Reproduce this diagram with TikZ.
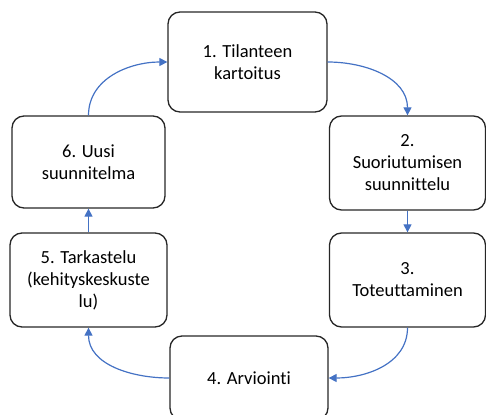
\documentclass[tikz,border=0pt]{standalone}
\usepackage{fontspec}
\setmainfont{Carlito}[Ligatures=NoCommon]
\usetikzlibrary{arrows.meta}
\definecolor{arrowblue}{HTML}{4472C4}
\definecolor{boxline}{HTML}{262626}
\begin{document}
\begin{tikzpicture}[x=1pt,y=-1pt,
  stepbox/.style={draw=boxline,line width=1.3pt,rounded corners=12pt,align=center,
    font=\fontsize{18.5}{22}\selectfont,inner sep=0pt},
  flow/.style={draw=arrowblue,line width=1.2pt,-{Triangle[length=8pt,width=8pt]}}]
\useasboundingbox (0,0) rectangle (486,414);
\node[stepbox,minimum width=159pt,minimum height=100pt] (b1) at (247.5,62) {1. Tilanteen\\kartoitus};
\node[stepbox,minimum width=156pt,minimum height=94pt] (b2) at (407.5,163) {2.\\Suoriutumisen\\suunnittelu};
\node[stepbox,minimum width=156pt,minimum height=94pt] (b3) at (407.5,280) {3.\\Toteuttaminen};
\node[stepbox,minimum width=158pt,minimum height=84pt] (b4) at (249,378) {4. Arviointi};
\node[stepbox,minimum width=157pt,minimum height=94pt] (b5) at (88.5,280) {5. Tarkastelu\\(kehityskeskuste\\lu)};
\node[stepbox,minimum width=153pt,minimum height=92pt] (b6) at (88.5,162) {6. Uusi\\suunnitelma};
\draw[flow] (b6.north) to[out=90,in=180] (b1.west);
\draw[flow] (b1.east) to[out=0,in=90] (b2.north);
\draw[flow] (b2.south) -- (b3.north);
\draw[flow] (b3.south) to[out=-90,in=0] (b4.east);
\draw[flow] (b4.west) to[out=180,in=-90] (b5.south);
\draw[flow] (b5.north) -- (b6.south);
\end{tikzpicture}
\end{document}
